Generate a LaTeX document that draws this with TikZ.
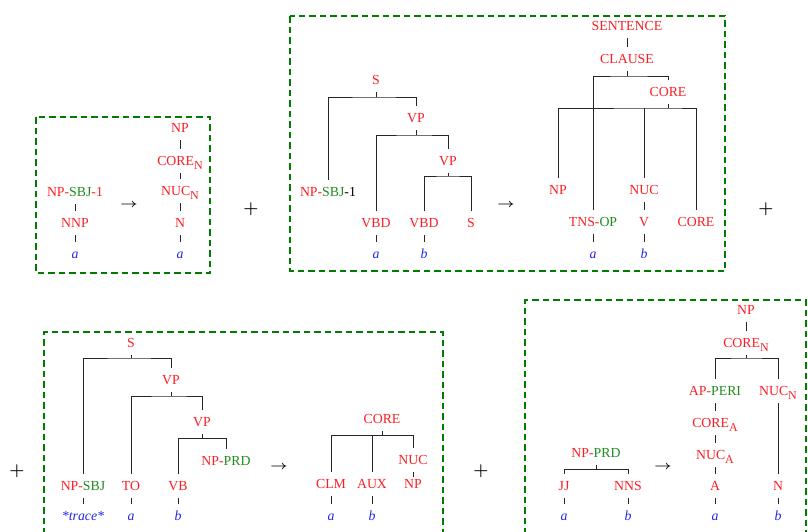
\documentclass[tikz,border=0pt]{standalone}
\usepackage{fontspec}
\setmainfont{Liberation Serif}
\definecolor{cred}{RGB}{250,30,35}
\definecolor{cgreen}{RGB}{30,140,30}
\definecolor{cblue}{RGB}{35,35,235}
\definecolor{cbox}{RGB}{0,125,0}
\newcommand{\gr}[1]{\textcolor{cgreen}{#1}}
\newcommand{\bk}[1]{\textcolor{black}{#1}}
\newcommand{\sub}[1]{\raisebox{-3.8pt}{\fontsize{12}{14}\selectfont #1}}
\newcommand{\myarrow}{{\boldmath\scalebox{1.25}[1]{$\rightarrow$}}}
\newcommand{\myplus}{{\boldmath$+$}}
\tikzset{
 lab/.style={inner xsep=1pt, inner ysep=7.5pt, text height=9pt, text depth=0pt, font=\fontsize{13.8}{16}\selectfont},
 rl/.style={lab, text=cred},
 wl/.style={lab, text=cblue, font=\fontsize{13.8}{16}\selectfont\itshape},
 br/.style={draw=black!85, line width=0.75pt},
 dbox/.style={draw=cbox, line width=2.5pt, dash pattern=on 6.5pt off 4pt},
 arr/.style={inner sep=0pt, font=\fontsize{12.8}{15}\selectfont},
 plus/.style={inner sep=0pt, font=\fontsize{18.5}{22}\selectfont},
}
\begin{document}
\begin{tikzpicture}[x=1pt,y=-1pt]
\useasboundingbox (0,0) rectangle (808,531);
% boxes
\draw[dbox] (36,117) rectangle (210,273);
\draw[dbox] (290,16) rectangle (725,271);
\draw[dbox] (44,545) -- (44,332) -- (443,332) -- (443,545);
\draw[dbox] (525,545) -- (525,300) -- (806,300) -- (806,545);
% plus signs
\node[plus] (p1) at (251,209) {\myplus};
\node[plus] (p2) at (766,209) {\myplus};
\node[plus] (p3) at (17,471) {\myplus};
\node[plus] (p4) at (481,471) {\myplus};
% ===== Box 1
\node[rl] (a1) at (75,192) {NP-\gr{SBJ}-1};
\node[rl] (a2) at (75,223) {NNP};
\node[wl] (a3) at (75,254) {a};
\draw[br] (a1) -- (a2);
\draw[br] (a2) -- (a3);
\node[arr] (ar1) at (129,205) {\myarrow};
\node[rl] (c1) at (180,128) {NP};
\node[rl] (c2) at (180,161) {CORE\sub{N}};
\node[rl] (c3) at (180,191) {NUC\sub{N}};
\node[rl] (c4) at (180,223) {N};
\node[wl] (c5) at (180,254) {a};
\draw[br] (c1.south) -- (c2.north);
\draw[br] (c2.south) -- (c3.north);
\draw[br] (c3.south) -- (c4.north);
\draw[br] (c4.south) -- (c5.north);
% ===== Box 2 left
\node[rl] (s) at (376,80) {S};
\node[rl] (vp1) at (416,118) {VP};
\node[rl] (vp2) at (448,161) {VP};
\node[rl] (npsbj) at (328,192) {NP-\gr{SBJ}\bk{-1}};
\node[rl] (vbd1) at (376,223) {VBD};
\node[rl] (vbd2) at (424,223) {VBD};
\node[rl] (s2) at (471,223) {S};
\node[wl] (wa) at (376,254) {a};
\node[wl] (wb) at (424,254) {b};
\coordinate (sb) at (376,97);
\coordinate (vp1b) at (416,135);
\coordinate (vp2b) at (448,176);
\draw[br] (s) -- (sb);
\draw[br] (npsbj.north) |- (sb) -| (vp1.north);
\draw[br] (vp1) -- (vp1b);
\draw[br] (vbd1.north) |- (vp1b) -| (vp2.north);
\draw[br] (vp2) -- (vp2b);
\draw[br] (vbd2.north) |- (vp2b) -| (s2.north);
\draw[br] (vbd1) -- (wa);
\draw[br] (vbd2) -- (wb);
\node[arr] (ar2) at (506,205) {\myarrow};
% ===== Box 2 right
\node[rl] (sen) at (627,26) {SENTENCE};
\node[rl] (cla) at (627,59) {CLAUSE};
\node[rl] (cor1) at (668,92) {CORE};
\node[rl] (np3) at (558,190) {NP};
\node[rl] (nuc3) at (644,190) {NUC};
\node[rl] (tns) at (593,222) {TNS-\gr{OP}};
\node[rl] (v3) at (644,222) {V};
\node[rl] (cor2) at (696,222) {CORE};
\node[wl] (wa3) at (593,254) {a};
\node[wl] (wb3) at (644,254) {b};
\coordinate (clb) at (627,76);
\coordinate (cob) at (668,108);
\draw[br] (sen) -- (cla);
\draw[br] (cla) -- (clb);
\draw[br] (tns.north) |- (clb) -| (cor1.north);
\draw[br] (cor1) -- (cob);
\draw[br] (np3.north) |- (cob) -| (cor2.north);
\draw[br] (nuc3.north) -- (nuc3.north |- cob);
\draw[br] (nuc3) -- (v3);
\draw[br] (tns) -- (wa3);
\draw[br] (v3) -- (wb3);
% ===== Box 3 left
\node[rl] (t1) at (131,343) {S};
\node[rl] (t2) at (171,380) {VP};
\node[rl] (t3) at (202,422) {VP};
\node[rl] (t4) at (83,486) {NP-\gr{SBJ}};
\node[rl] (t5) at (131,486) {TO};
\node[rl] (t6) at (178,486) {VB};
\node[rl] (t7) at (226,461) {NP-\gr{PRD}};
\node[wl] (t8) at (83,516) {*trace*};
\node[wl] (t9) at (131,516) {a};
\node[wl] (t10) at (178,516) {b};
\coordinate (t1b) at (131,358);
\coordinate (t2b) at (171,396);
\coordinate (t3b) at (202,438);
\draw[br] (t1) -- (t1b);
\draw[br] (t4.north) |- (t1b) -| (t2.north);
\draw[br] (t2) -- (t2b);
\draw[br] (t5.north) |- (t2b) -| (t3.north);
\draw[br] (t3) -- (t3b);
\draw[br] (t6.north) |- (t3b) -| (t7.north);
\draw[br] (t4) -- (t8);
\draw[br] (t5) -- (t9);
\draw[br] (t6) -- (t10);
\node[arr] (ar3) at (279,467) {\myarrow};
% ===== Box 3 right
\node[rl] (u1) at (382,419) {CORE};
\node[rl] (u2) at (413,460) {NUC};
\node[rl] (u3) at (331,484) {CLM};
\node[rl] (u4) at (372,484) {AUX};
\node[rl] (u5) at (413,484) {NP};
\node[wl] (u6) at (331,516) {a};
\node[wl] (u7) at (372,516) {b};
\coordinate (u1b) at (382,435);
\draw[br] (u1) -- (u1b);
\draw[br] (u3.north) |- (u1b) -| (u2.north);
\draw[br] (u4.north) -- (u4.north |- u1b);
\draw[br] (u2.south) -- ([yshift=-5pt]u2.south);
\draw[br] (u3) -- (u6);
\draw[br] (u4) -- (u7);
% ===== Box 4 left
\node[rl] (v1) at (596,453) {NP-\gr{PRD}};
\node[rl] (v2) at (564,486) {JJ};
\node[rl] (vv3) at (628,486) {NNS};
\node[wl] (v4) at (564,516) {a};
\node[wl] (v5) at (628,516) {b};
\coordinate (v1b) at (596,469);
\draw[br] (v1) -- (v1b);
\draw[br] (v2.north) |- (v1b) -| (vv3.north);
\draw[br] (v2) -- (v4);
\draw[br] (vv3) -- (v5);
\node[arr] (ar4) at (663,467) {\myarrow};
% ===== Box 4 right
\node[rl] (x1) at (746,310) {NP};
\node[rl] (x2) at (746,343) {CORE\sub{N}};
\node[rl] (x3) at (715,391) {AP-\gr{PERI}};
\node[rl] (x4) at (778,391) {NUC\sub{N}};
\node[rl] (x5) at (715,423) {CORE\sub{A}};
\node[rl] (x6) at (715,455) {NUC\sub{A}};
\node[rl] (x7) at (715,486) {A};
\node[rl] (x8) at (778,486) {N};
\node[wl] (x9) at (715,516) {a};
\node[wl] (x10) at (778,516) {b};
\coordinate (x2b) at (746,358);
\draw[br] (x1.south) -- (x2.north);
\draw[br] (x2) -- (x2b);
\draw[br] (x3.north) |- (x2b) -| (x4.north);
\draw[br] (x3.south) -- (x5.north);
\draw[br] (x5.south) -- (x6.north);
\draw[br] (x6.south) -- (x7.north);
\draw[br] (x4.south) -- (x8.north);
\draw[br] (x7) -- (x9);
\draw[br] (x8) -- (x10);
\end{tikzpicture}
\end{document}
